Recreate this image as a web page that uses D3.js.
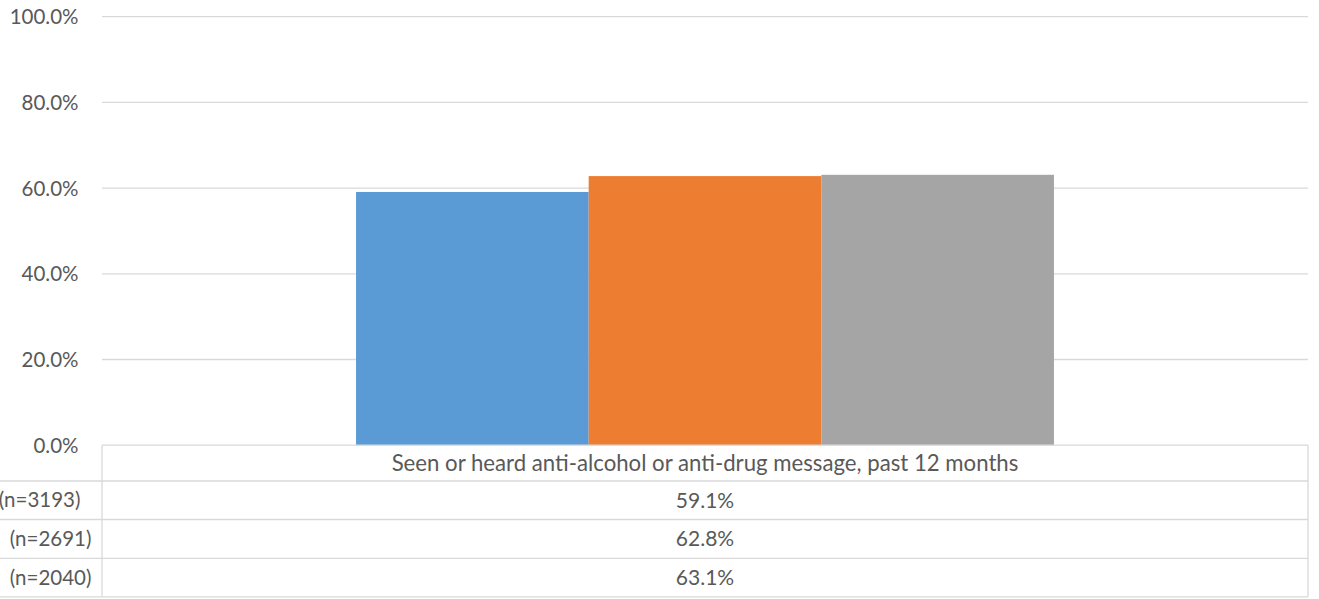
<!DOCTYPE html>
<html>
<head>
<meta charset="utf-8">
<script src="https://cdn.jsdelivr.net/npm/d3@7"></script>
<style>
  html, body { margin: 0; padding: 0; background: #fff; }
  svg { display: block; font-family: Lato, "Liberation Sans", sans-serif; }
</style>
</head>
<body>
<svg id="chart" width="1319" height="599"></svg>
<script>
const categories = ["Seen or heard anti-alcohol or anti-drug message, past 12 months"];
const seriesLabels = ["(n=3193)", "(n=2691)", "(n=2040)"];
const seriesValues = [59.1, 62.8, 63.1];
const yTicks = [0, 20, 40, 60, 80, 100];

const colors = ["#5B9BD5", "#ED7D31", "#A5A5A5"];
const gridColor = "#D9D9D9";
const textColor = "#595959";

const svg = d3.select("#chart");
const plot = { left: 102, right: 1308, top: 16.7, bottom: 445.2 };
const rowEdges = [445.2, 481, 519.5, 558.3, 596.8];

const y = d3.scaleLinear().domain([0, 100]).range([plot.bottom, plot.top]);
const x0 = d3.scaleBand().domain(categories).range([plot.left, plot.right])
  .paddingInner(0).paddingOuter(0.364);
const x1 = d3.scaleBand().domain(seriesLabels).range([0, x0.bandwidth()]).padding(0);

// gridlines
svg.append("g").selectAll("line").data(yTicks.filter(d => d > 0)).join("line")
  .attr("x1", plot.left).attr("x2", plot.right)
  .attr("y1", d => y(d)).attr("y2", d => y(d))
  .attr("stroke", gridColor).attr("stroke-width", 1.3);

// y axis labels
const yAxis = d3.axisLeft(y).tickValues(yTicks).tickSize(0).tickPadding(0)
  .tickFormat(d => d.toFixed(1) + "%");
const ya = svg.append("g").attr("transform", "translate(78.5,0)").call(yAxis);
ya.select(".domain").remove();
ya.selectAll("text").attr("fill", textColor).attr("font-size", 20.5)
  .attr("font-family", "Lato, 'Liberation Sans', sans-serif").attr("dy", "0.35em");

// bars
const gBars = svg.append("g");
categories.forEach((cat) => {
  gBars.selectAll(null).data(seriesValues).join("rect")
    .attr("x", (d, i) => x0(cat) + x1(seriesLabels[i]))
    .attr("width", x1.bandwidth())
    .attr("y", d => y(d))
    .attr("height", d => y(0) - y(d))
    .attr("fill", (d, i) => colors[i]);
});

// data table
const gT = svg.append("g");
const line = (xa, ya_, xb, yb) => gT.append("line")
  .attr("x1", xa).attr("y1", ya_).attr("x2", xb).attr("y2", yb)
  .attr("stroke", gridColor).attr("stroke-width", 1.3);
line(plot.left, rowEdges[0], plot.right, rowEdges[0]);
rowEdges.slice(1).forEach(ry => line(0, ry, plot.right, ry));
line(plot.left, rowEdges[0], plot.left, rowEdges[4]);
line(plot.right, rowEdges[0], plot.right, rowEdges[4]);

const cx = (plot.left + plot.right) / 2;
gT.append("text").attr("x", cx).attr("y", (rowEdges[0] + rowEdges[1]) / 2)
  .attr("dy", "0.35em").attr("text-anchor", "middle")
  .attr("fill", textColor).attr("font-size", 22.2).text(categories[0]);

const labelEnds = [80.5, 91.5, 91.5];
seriesLabels.forEach((lab, i) => {
  const cy = (rowEdges[i + 1] + rowEdges[i + 2]) / 2;
  gT.append("text").attr("x", labelEnds[i]).attr("y", cy).attr("dy", "0.35em")
    .attr("text-anchor", "end").attr("fill", textColor).attr("font-size", 20.5)
    .text(lab);
  gT.append("text").attr("x", cx).attr("y", cy).attr("dy", "0.35em")
    .attr("text-anchor", "middle").attr("fill", textColor).attr("font-size", 21)
    .text(seriesValues[i].toFixed(1) + "%");
});
</script>
</body>
</html>
